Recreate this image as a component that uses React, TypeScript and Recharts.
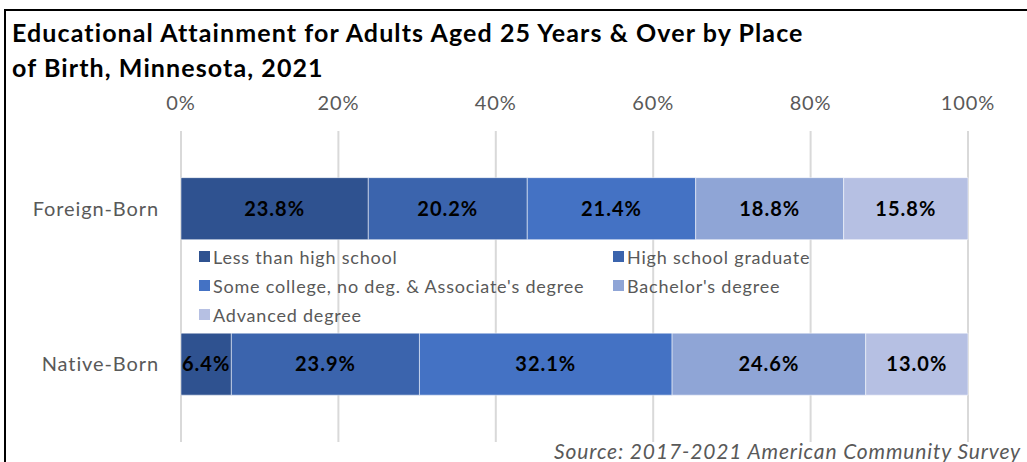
import React from 'react';
import { BarChart, Bar, XAxis, YAxis, CartesianGrid, LabelList } from 'recharts';

// Educational attainment, adults 25+, Minnesota 2021 (percent of each group)
const places = ['Foreign-Born', 'Native-Born'];
const lessThanHighSchool = [23.8, 6.4];
const highSchoolGraduate = [20.2, 23.9];
const someCollege = [21.4, 32.1];
const bachelors = [18.8, 24.6];
const advanced = [15.8, 13.0];

const seriesNames = [
  'Less than high school',
  'High school graduate',
  "Some college, no deg. & Associate's degree",
  "Bachelor's degree",
  'Advanced degree',
];
const seriesKeys = ['lessHS', 'hsGrad', 'someCollege', 'bachelors', 'advanced'];
const seriesColors = ['#2F5290', '#3B64AD', '#4472C4', '#8FA5D6', '#B6C0E3'];
const tickValues = [0, 20, 40, 60, 80, 100];

const data = places.map((place, i) => ({
  place,
  lessHS: lessThanHighSchool[i],
  hsGrad: highSchoolGraduate[i],
  someCollege: someCollege[i],
  bachelors: bachelors[i],
  advanced: advanced[i],
}));

const FONT = 'Lato, "Open Sans", sans-serif';
const GRAY = '#595959';

const App: React.FC = () => {
  return (
    <div style={{ position: 'absolute', top: 0, left: 0, width: 1027, height: 462, overflow: 'hidden', background: '#fff', fontFamily: FONT }}>
      {/* frame: only top and left edges show */}
      <div style={{ position: 'absolute', left: 4, top: 9, width: 1100, height: 500, borderTop: '2px solid #000', borderLeft: '2px solid #000' }} />

      <BarChart
        width={1027}
        height={462}
        data={data}
        layout="vertical"
        barCategoryGap="30%"
        margin={{ top: 0, right: 59, bottom: 20, left: 0 }}
        style={{ position: 'absolute', top: 0, left: 0 }}
      >
        <CartesianGrid horizontal={false} stroke="#D9D9D9" strokeWidth={2} />
        <XAxis
          type="number"
          orientation="top"
          domain={[0, 100]}
          ticks={tickValues}
          height={131}
          axisLine={false}
          tickLine={false}
          tickSize={0}
          tickMargin={21}
          tick={{ fill: GRAY, fontSize: 20, fontFamily: FONT, style: { letterSpacing: '0.9px' } }}
          tickFormatter={(v: number) => `${v}%`}
        />
        <YAxis
          type="category"
          dataKey="place"
          width={181}
          axisLine={false}
          tickLine={false}
          tickSize={0}
          tickMargin={22}
          tick={{ fill: GRAY, fontSize: 20, fontFamily: FONT, style: { letterSpacing: '0.9px' } }}
        />
        {seriesKeys.map((key, i) => (
          <Bar
            key={key}
            dataKey={key}
            name={seriesNames[i]}
            stackId="a"
            fill={seriesColors[i]}
            stroke="#ffffff"
            strokeOpacity={0.5}
            strokeWidth={1}
            isAnimationActive={false}
          >
            <LabelList
              dataKey={key}
              position="center"
              formatter={(v: any) => `${Number(v).toFixed(1)}%`}
              style={{ fill: '#000', fontSize: 20, fontWeight: 700, fontFamily: FONT, letterSpacing: '1px' }}
            />
          </Bar>
        ))}
      </BarChart>

      <div style={{ position: 'absolute', left: 12, top: 15, fontSize: 25, fontWeight: 700, lineHeight: '35px', letterSpacing: '1.1px', color: '#000' }}>
        Educational Attainment for Adults Aged 25 Years &amp; Over by Place
        <br />
        of Birth, Minnesota, 2021
      </div>

      <div style={{ position: 'absolute', left: 199, top: 244, width: 700, display: 'grid', gridTemplateColumns: '414px auto', rowGap: 4, fontSize: 18, letterSpacing: '0.8px', color: GRAY }}>
        {seriesNames.map((name, i) => (
          <div key={name} style={{ display: 'flex', alignItems: 'center', height: 25 }}>
            <span style={{ display: 'inline-block', width: 11, height: 11, background: seriesColors[i], marginRight: 3 }} />
            {name}
          </div>
        ))}
      </div>

      <div style={{ position: 'absolute', right: 6, top: 438, fontSize: 21, fontStyle: 'italic', letterSpacing: '0.85px', color: GRAY }}>
        Source: 2017-2021 American Community Survey
      </div>
    </div>
  );
};

export default App;
